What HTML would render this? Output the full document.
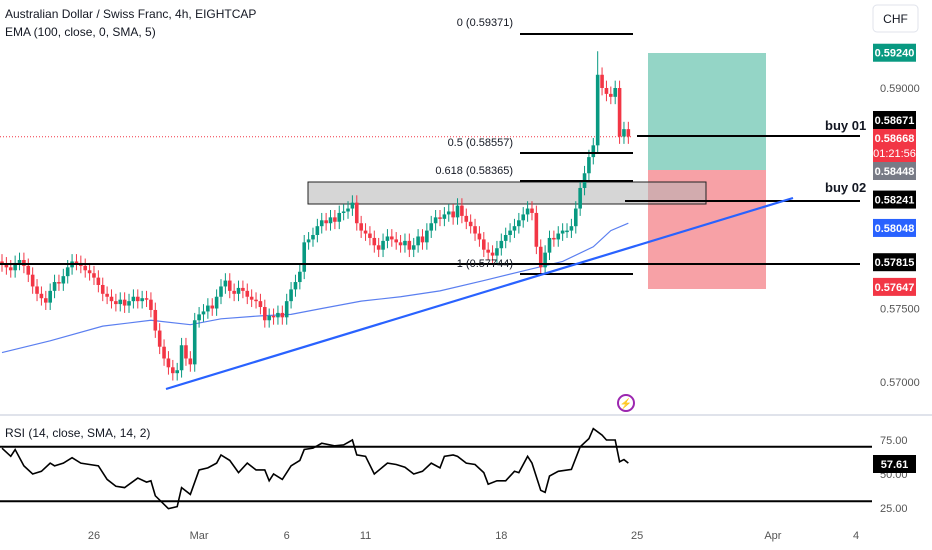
<!DOCTYPE html>
<html><head><meta charset="utf-8">
<style>
body{margin:0;background:#fff;font-family:"Liberation Sans",sans-serif;}
#wrap{position:relative;width:932px;height:550px;overflow:hidden;background:#fff;}
svg text{font-family:"Liberation Sans",sans-serif;}
</style></head>
<body>
<div id="wrap">
<svg id="chart" width="932" height="550"></svg>
</div>
<script>
// ===== data =====
const closes=[.5780,.5778,.5776,.5781,.5783,.5779,.5773,.5765,.5760,.5757,.5754,.5762,.5768,.5767,.5772,.5778,.5782,.5781,.5779,.5776,
.5774,.5771,.5766,.5760,.5758,.5755,.5753,.5756,.5752,.5755,.5758,.5755,.5757,.5756,.5749,.5735,.5724,.5716,.5710,.5706,
.5708,.5725,.5716,.5712,.5742,.5746,.5748,.5752,.5750,.5758,.5765,.5769,.5762,.5760,.5764,.5762,.5758,.5756,.5755,.5751,
.5742,.5745,.5744,.5747,.5744,.5755,.5763,.5768,.5775,.5795,.5797,.5800,.5806,.5810,.5808,.5812,.5809,.5815,.5816,.5818,
.5822,.5808,.5803,.5801,.5798,.5793,.5790,.5796,.5799,.5797,.5795,.5793,.5796,.5790,.5793,.5799,.5795,.5803,.5808,.5812,
.5811,.5814,.5816,.5812,.5820,.5813,.5809,.5806,.5801,.5797,.5790,.5788,.5786,.5791,.5796,.5800,.5803,.5806,.5810,.5814,
.5818,.5815,.5792,.5778,.5788,.5798,.5797,.5801,.5803,.5803,.5806,.5818,.5832,.5842,.5853,.5861,.5909,.5900,.5896,.5894,
.5900,.5867,.5872,.5867];
const emaIdx=[0,11,23,34,43,50,59,66,73,82,91,100,110,121,128,135,139,143];
const emaVals=[.5720,.5728,.5738,.5742,.5739,.5743,.5745,.5746,.5750,.5755,.5758,.5762,.5769,.5777,.5782,.5792,.5803,.5808];
const rsiIdx=[0,2,3,5,7,9,11,12,14,16,18,20,22,24,26,28,31,33,34,35,38,40,41,43,45,47,49,50,52,54,56,58,60,61,62,64,66,68,69,71,73,76,78,80,81,83,85,88,90,92,94,96,98,100,101,103,104,106,108,110,111,113,115,117,118,120,121,123,124,125,127,130,132,134,135,137,138,140,141,142,143];
const rsiVals=[69,63,68,56,50,52,58,56,58,62,58,57,56,46,41,40,47,44,45,34,24.5,26,40,35,53,54.5,58,64,60,51,58,53,53,45,50,46,56,60,68,69,72.6,70.7,71.4,75,64,63,50,58,57,55,50,52,58,54.5,63,64,63,58,57,51,42.5,45,45,52,51,63,58,38,36.5,48.5,52,53.4,70,76,83.4,78.6,75,75,59,60.6,58];
const priceTicks=["0.59000","0.57500","0.57000"];
const priceTickVals=[0.59,0.575,0.57];
const rsiTicks=["75.00","50.00","25.00"];
const rsiTickVals=[75,50,25];
const dateLabels=["26","Mar","6","11","18","25","Apr","4"];
const dateIdx=[21,45,65,83,114,145,176,195];
// ===== axes =====
const X=i=>2+i*4.38;
const Y=p=>88+(0.59-p)*14700;
const RY=v=>440+(75-v)*1.36;
const svg=document.getElementById('chart');
const NS='http://www.w3.org/2000/svg';
function mk(tag,attrs,parent){const e=document.createElementNS(NS,tag);for(const k in attrs)e.setAttribute(k,attrs[k]);(parent||svg).appendChild(e);return e;}
function txt(x,y,s,attrs){const e=mk('text',Object.assign({x:x,y:y,'font-size':12,fill:'#131722'},attrs||{}));e.textContent=s;return e;}

let r=mk('rect',{x:648,y:53,width:118,height:117,fill:'#94d5c6'});


r=mk('rect',{x:648,y:170,width:118,height:119,fill:'#f7a1a6'});


r=mk('rect',{x:308,y:182,width:398,height:22,fill:'rgba(180,180,180,0.55)',stroke:'#222','stroke-width':1});


let l=mk('line',{x1:0,y1:Y(0.58668),x2:632,y2:Y(0.58668),stroke:'#f23645','stroke-width':1,'stroke-dasharray':'1,2'});



let pts=emaIdx.map((i,k)=>X(i)+','+Y(emaVals[k])).join(' ');
let ema=mk('polyline',{points:pts,fill:'none',stroke:'#5b7ff0','stroke-width':1.2});



for(let i=0;i<closes.length;i++){
  const o=i>0?closes[i-1]:closes[0]+0.0002,c=closes[i];
  const up=c>=o,col=up?'#089981':'#f23645';
  const hi=Math.max(o,c)+(i===136?0.0016:0.0005),lo=Math.min(o,c)-0.0005;
  const g=mk('g',{});
  
  
  mk('line',{x1:X(i),x2:X(i),y1:Y(hi),y2:Y(lo),stroke:col,'stroke-width':1},g);
  const yt=Y(Math.max(o,c)),yb=Y(Math.min(o,c));
  mk('rect',{x:X(i)-1.8,y:yt,width:3.6,height:Math.max(1.5,yb-yt),fill:col},g);
}

function hl(x1,x2,y,name,w){const e=mk('line',{x1:x1,x2:x2,y1:y,y2:y,stroke:'#000','stroke-width':w||2});}
hl(0,860,264,'support-line-57815');
hl(637,860,136,'buy-01-line');
hl(625,860,201,'buy-02-line');
hl(520,633,34,'fib-0-line');
hl(520,633,153,'fib-0.5-line');
hl(520,633,181,'fib-0.618-line');
hl(520,633,274,'fib-1-line');
const fibL=[["0 (0.59371)",26],["0.5 (0.58557)",146],["0.618 (0.58365)",174],["1 (0.57744)",267]];
fibL.forEach(f=>{const t=txt(513,f[1],f[0],{'text-anchor':'end','font-size':11});});
let t=txt(825,130,'buy 01',{'font-size':13,'font-weight':'bold'});
t=txt(825,192,'buy 02',{'font-size':13,'font-weight':'bold'});
l=mk('line',{x1:166,y1:389,x2:793,y2:198,stroke:'#2962ff','stroke-width':2.2});



priceTicks.forEach((s,k)=>{const e=txt(880,Y(priceTickVals[k])+4,s,{'font-size':11,fill:'#555'});});
const tags=[[0.59240,'0.59240','#089981'],[0.58671,'0.58671','#000'],[0.58448,'0.58448','#787b86'],[0.58241,'0.58241','#000'],[0.58048,'0.58048','#2962ff'],[0.57815,'0.57815','#000'],[0.57647,'0.57647','#f23645']];
tags.forEach(tg=>{const y=tg[0]===0.58671?120:tg[0]===0.58448?171:Y(tg[0]);const g=mk('g',{});
mk('rect',{x:873,y:y-9,width:43,height:18,fill:tg[2]},g);const e=txt(894.5,y+4,tg[1],{'font-size':11,'font-weight':'bold',fill:'#fff','text-anchor':'middle'});g.appendChild(e);});
let g=mk('g',{});
mk('rect',{x:873,y:129,width:43,height:33,fill:'#f23645'},g);
g.appendChild(txt(894.5,142,'0.58668',{'font-size':11,'font-weight':'bold',fill:'#fff','text-anchor':'middle'}));
g.appendChild(txt(894.5,157,'01:21:56',{'font-size':11,fill:'#fff','text-anchor':'middle'}));
g=mk('g',{});
mk('rect',{x:873,y:5,width:45,height:27,rx:4,fill:'#fff',stroke:'#e0e3eb'},g);
g.appendChild(txt(895.5,23,'CHF',{'font-size':12,'text-anchor':'middle'}));
t=txt(5,18,'Australian Dollar / Swiss Franc, 4h, EIGHTCAP',{'font-size':12});
t=txt(5,36,'EMA (100, close, 0, SMA, 5)',{'font-size':12});
g=mk('g',{});
mk('circle',{cx:626,cy:403,r:8,fill:'none',stroke:'#9c27b0','stroke-width':2},g);
g.appendChild(txt(626,407,'⚡',{'font-size':10,fill:'#e91e63','text-anchor':'middle'}));
l=mk('line',{x1:0,x2:932,y1:415,y2:415,stroke:'#e0e3eb','stroke-width':2});
t=txt(5,437,'RSI (14, close, SMA, 14, 2)',{'font-size':12});
hl(0,872,RY(70),'rsi-upper-band');
hl(0,872,RY(30),'rsi-lower-band');
rsiTicks.forEach((s,k)=>{const e=txt(880,RY(rsiTickVals[k])+4,s,{'font-size':11,fill:'#555'});});
pts=rsiIdx.map((i,k)=>X(i)+','+RY(rsiVals[k])).join(' ');
let rl=mk('polyline',{points:pts,fill:'none',stroke:'#000','stroke-width':1.6});


g=mk('g',{});
mk('rect',{x:873,y:455,width:43,height:18,fill:'#000'},g);
g.appendChild(txt(894.5,468,'57.61',{'font-size':11,'font-weight':'bold',fill:'#fff','text-anchor':'middle'}));
dateLabels.forEach((s,k)=>{const e=txt(X(dateIdx[k]),539,s,{'font-size':11,fill:'#555','text-anchor':'middle'});});
</script>
</body></html>
